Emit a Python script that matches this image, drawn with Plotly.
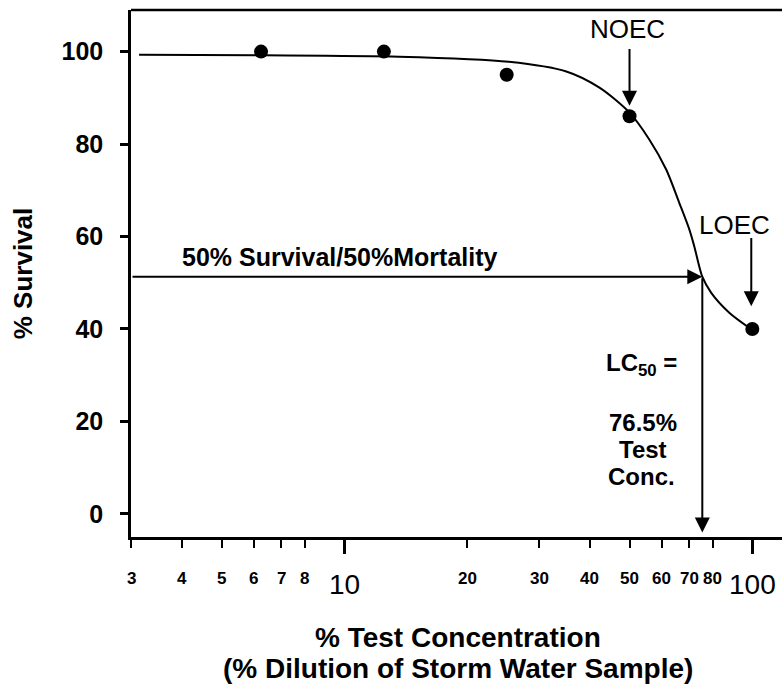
import math
import plotly.graph_objects as go

# ---- data ----
conc = [6.25, 12.5, 25, 50, 100]
survival = [100, 100, 95, 86, 40]

curve_x = [3.14, 6.3, 13.6, 25.3, 35, 42.2, 50, 55.9, 61.5, 66.2, 70.1, 72.1, 75.4, 79.3, 87.8, 98.4]
curve_y = [99.3, 99.2, 98.9, 97.8, 95.7, 92.2, 86.8, 81, 74.5, 67.3, 61.5, 57.8, 51.3, 47.8, 43.5, 40.2]

y_ticks = [0, 20, 40, 60, 80, 100]
x_major = [10, 100]
x_minor = [3, 4, 5, 6, 7, 8, 20, 30, 40, 50, 60, 70, 80]

lc50 = 75.4
half_level = 51.3
noec_x = 50
loec_x = 99.4

FONT = "Liberation Sans, Arial, sans-serif"
L = math.log10

fig = go.Figure()
fig.add_trace(go.Scatter(x=curve_x, y=curve_y, mode="lines",
                         line=dict(color="black", width=2, shape="spline", smoothing=0.8),
                         hoverinfo="skip", showlegend=False))
fig.add_trace(go.Scatter(x=conc, y=survival, mode="markers",
                         marker=dict(color="black", size=14), showlegend=False))

ann = []
arrow = dict(showarrow=True, arrowhead=2, arrowsize=1.5, arrowwidth=2, arrowcolor="black",
             axref="x", ayref="y", text="", standoff=0, startstandoff=0)
# horizontal 50% arrow
ann.append(dict(arrow, x=L(lc50), y=half_level, ax=L(3), ay=half_level))
# vertical LC50 arrow
ann.append(dict(arrow, x=L(lc50), y=-4.0, ax=L(lc50), ay=half_level))
# NOEC arrow
ann.append(dict(arrow, x=L(noec_x), y=88.3, ax=L(noec_x), ay=100.9))
# LOEC arrow
ann.append(dict(arrow, x=L(loec_x), y=44.9, ax=L(loec_x), ay=60.0))

def txt(t, x, y, size, bold=True, **kw):
    d = dict(text=("<b>%s</b>" % t) if bold else t, x=x, y=y, showarrow=False,
             font=dict(family=FONT, size=size, color="black"),
             xanchor="center", yanchor="middle")
    d.update(kw)
    return d

ann.append(txt("NOEC", L(49.5), 104.8, 26, bold=False))
ann.append(txt("LOEC", L(90.5), 62.6, 26, bold=False))
ann.append(txt("50% Survival/50%Mortality", L(9.78), 55.6, 25))
ann.append(txt("LC<sub>50</sub> =", L(53.5), 32.3, 24))
ann.append(txt("76.5%", L(54.0), 19.7, 24))
ann.append(txt("Test", L(54.0), 13.9, 24))
ann.append(txt("Conc.", L(53.5), 8.0, 24))

# x tick labels
for v in x_minor:
    ann.append(txt(str(v), L(v), -0.078, 17, yref="paper"))
for v in x_major:
    ann.append(txt(str(v), L(v), -0.091, 28, bold=False, yref="paper"))

# x axis title (two lines)
ann.append(txt("% Test Concentration", 0.502, -0.1898, 28, xref="paper", yref="paper"))
ann.append(txt("(% Dilution of Storm Water Sample)", 0.502, -0.2486, 28, xref="paper", yref="paper"))

fig.update_layout(
    width=782, height=686,
    margin=dict(l=131, r=0, t=10, b=149),
    paper_bgcolor="white", plot_bgcolor="white",
    showlegend=False,
    annotations=ann,
    font=dict(family=FONT, color="black"),
    xaxis=dict(type="log", range=[L(3), 2.0727], showgrid=False, zeroline=False,
               showline=True, linecolor="black", linewidth=2.5,
               tickmode="array", tickvals=x_major, showticklabels=False,
               ticks="outside", ticklen=14, tickwidth=2.5, tickcolor="black",
               minor=dict(tickmode="array", tickvals=x_minor, ticks="outside",
                          ticklen=8, tickwidth=2, tickcolor="black", showgrid=False)),
    yaxis=dict(range=[-5, 109], showgrid=False, zeroline=False,
               showline=True, linecolor="black", linewidth=2.5,
               tickmode="array", tickvals=y_ticks,
               ticks="outside", ticklen=8, tickwidth=2.5, tickcolor="black",
               ticklabelstandoff=12,
               tickfont=dict(family=FONT, size=25, weight="bold"),
               title=dict(text="<b>% Survival</b>", font=dict(family=FONT, size=26), standoff=22)),
    shapes=[dict(type="line", xref="paper", yref="paper", x0=0, x1=1, y0=1, y1=1,
                 line=dict(color="black", width=2.5))],
)

fig.write_html("out.html")
